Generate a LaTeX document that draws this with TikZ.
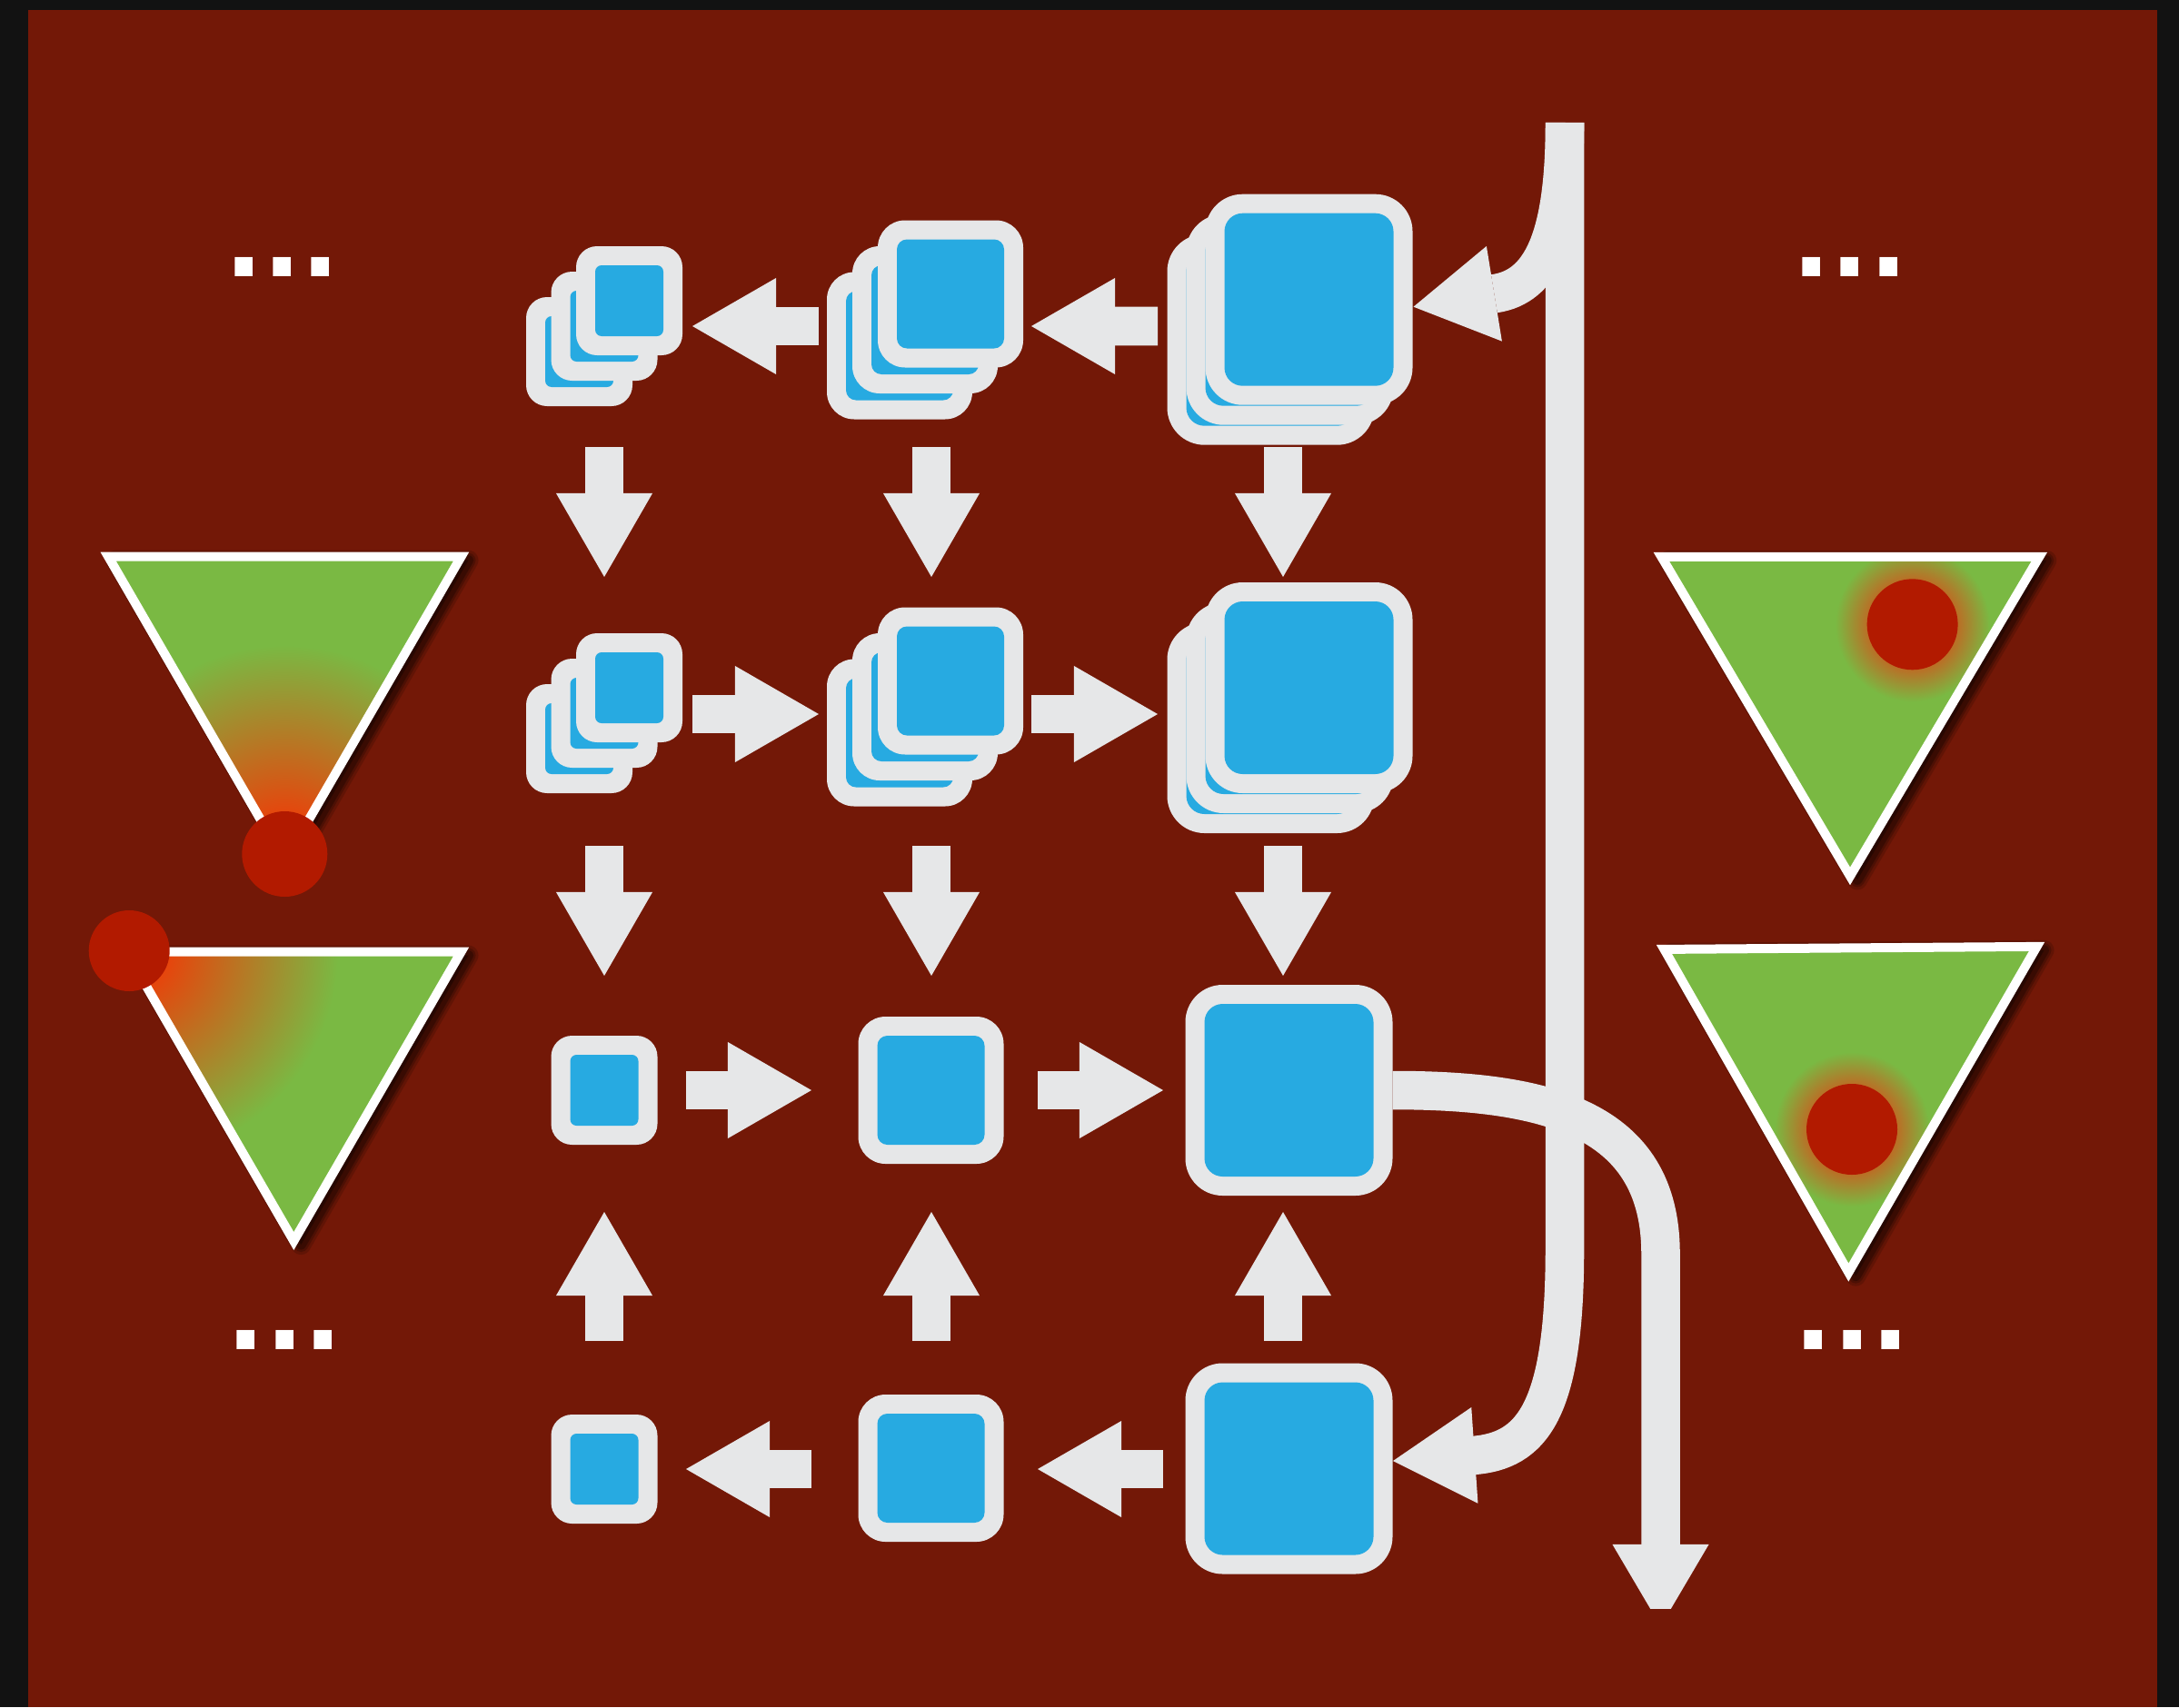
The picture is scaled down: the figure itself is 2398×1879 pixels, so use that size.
\documentclass[tikz,border=0pt]{standalone}
\usepackage{fontspec}
\newfontfamily\dotfont{DejaVu Sans}
\usetikzlibrary{arrows.meta,calc}
\definecolor{bgdark}{HTML}{121212}
\definecolor{bgred}{HTML}{731807}
\definecolor{boxgray}{HTML}{E6E7E8}
\definecolor{boxblue}{HTML}{27AAE1}
\definecolor{trigreen}{HTML}{7AB943}
\definecolor{hot}{HTML}{FF2A00}
\definecolor{dotred}{HTML}{B21A00}
\definecolor{halocol}{HTML}{BE6A24}
\pgfdeclareradialshading{halo}{\pgfpointorigin}{color(0bp)=(halocol); color(14bp)=(halocol); color(25bp)=(trigreen); color(50bp)=(trigreen)}
\pgfdeclareradialshading{hotspot}{\pgfpointorigin}{color(0bp)=(hot); color(25bp)=(trigreen); color(50bp)=(trigreen)}
\newcommand\sqb[7]{%
  \node[sqo, minimum width={#4*0.01cm}, minimum height={#5*0.01cm}, rounded corners={#6*0.01cm}] (#1) at (#2,#3) {};
  \node[sqi, minimum width={(#4-42)*0.01cm}, minimum height={(#5-42)*0.01cm}, rounded corners={#7*0.01cm}] (#1i) at (#1.center) {};
}
\newcommand\ssq[3]{\sqb{#1}{#2}{#3}{117}{120}{23}{7}}
\newcommand\msq[3]{\sqb{#1}{#2}{#3}{160}{162}{30}{11}}
\newcommand\lsq[3]{\sqb{#1}{#2}{#3}{228}{232}{41}{20}}
\newcommand\trishape[4]{%
  \foreach \ww/\oo in {22/0.15,16/0.2,11/0.25}{\draw[black, opacity=\oo, line width=\ww*0.01cm, line join=round, shift={(8,4)}] #1 -- #2 -- #3 -- cycle;}
  \fill[black, opacity=0.3, shift={(8,4)}] #1 -- #2 -- #3 -- cycle;
  \begin{scope}\clip #1 -- #2 -- #3 -- cycle; \fill[trigreen] #1 -- #2 -- #3 -- cycle; #4 \end{scope}
  \draw[tri] #1 -- #2 -- #3 -- cycle;
}
\begin{document}
\begin{tikzpicture}[x=0.01cm,y=-0.01cm,
  sqo/.style={rectangle, fill=boxgray, draw=none, inner sep=0pt, outer sep=0pt},
  sqi/.style={rectangle, fill=boxblue, draw=none, inner sep=0pt, outer sep=0pt},
  blk/.style={draw=boxgray, line width=0.425cm, -{Triangle[length=0.92cm, width=1.06cm, line width=0pt]}},
  cur/.style={draw=boxgray, line width=0.425cm, -{Triangle[length=0.9cm, width=1.06cm, line width=0pt]}},
  tri/.style={draw=white, line width=0.1cm, line join=miter},
  dots/.style={text=white, inner sep=0pt, outer sep=0pt, anchor=base, font=\dotfont\bfseries\fontsize{31.7}{38}\selectfont},
]
\useasboundingbox (0,0) rectangle (2398,1879);
\fill[bgdark] (0,0) rectangle (2398,1879);
\fill[bgred] (31,11) rectangle (2374,1879);

% triangles
\trishape{(119.2,612.7)}{(507.5,612.7)}{(313.3,948)}{\shade[shading=hotspot] (313.3,940) circle (230);}
\fill[dotred] (313.3,940) circle (47);
\trishape{(139.1,1047.6)}{(507.5,1047.6)}{(323.3,1366)}{\shade[shading=hotspot] (142.2,1046.5) circle (230);}
\fill[dotred] (142.2,1046.5) circle (44.5);
\trishape{(1828.4,612.9)}{(2244.2,612.9)}{(2036,964.4)}{\shade[shading=halo] (2104.6,687.3) circle (85);}
\fill[dotred] (2104.6,687.3) circle (50);
\trishape{(1831.4,1044.9)}{(2241.5,1041.9)}{(2034.3,1400.6)}{\shade[shading=halo] (2038,1243) circle (85);}
\fill[dotred] (2038,1243) circle (50);

% dots
\node[dots] (dTL) at (310.7,304) {...};
\node[dots] (dTR) at (2036,304) {...};
\node[dots] (dBL) at (313.3,1485) {...};
\node[dots] (dBR) at (2038.3,1485) {...};

% row 1 stacks
\ssq{s1c}{637.5}{387}\ssq{s1b}{665}{359}\ssq{s1}{692.5}{331}
\msq{m1c}{990}{380.5}\msq{m1b}{1018}{352}\msq{m1}{1046}{323.5}
\lsq{l1c}{1398.5}{373.7}\lsq{l1b}{1419.5}{351.7}\lsq{l1}{1440.5}{329.7}
% row 2 stacks
\ssq{s2c}{637.5}{813}\ssq{s2b}{665}{785}\ssq{s2}{692.5}{757}
\msq{m2c}{990}{806.5}\msq{m2b}{1018}{778}\msq{m2}{1046}{749.5}
\lsq{l2c}{1398.5}{801}\lsq{l2b}{1419.5}{779}\lsq{l2}{1440.5}{757}
% row 3 and 4
\ssq{s3}{665}{1200}\msq{m3}{1024.5}{1200}\lsq{l3}{1418.5}{1200}
\ssq{s4}{665}{1617}\msq{m4}{1024.5}{1616}\lsq{l4}{1418.5}{1616.5}

% horizontal block arrows
\draw[blk] ($(m1b)+(-117,7)$) -- ($(s1b)+(97,0)$);
\draw[blk] ($(l1b)+(-145.5,7.3)$) -- ($(m1b)+(117,7)$);
\draw[blk] ($(s2b)+(97,1)$) -- ($(m2b)+(-117,8)$);
\draw[blk] ($(m2b)+(117,8)$) -- ($(l2b)+(-145.5,7)$);
\draw[blk] ($(s3)+(90,0)$) -- ($(m3)+(-131.5,0)$);
\draw[blk] ($(m3)+(117.5,0)$) -- ($(l3)+(-138.5,0)$);
\draw[blk] ($(m4)+(-131.5,1)$) -- ($(s4)+(90,0)$);
\draw[blk] ($(l4)+(-138.5,0.5)$) -- ($(m4)+(117.5,1)$);
% vertical block arrows
\draw[blk] ($(s1b)+(0,133)$) -- ($(s2b)+(0,-150)$);
\draw[blk] ($(m1b)+(7,140)$) -- ($(m2b)+(7,-143)$);
\draw[blk] ($(l1b)+(-7.5,140.3)$) -- ($(l2b)+(-7.5,-144)$);
\draw[blk] ($(s2b)+(0,146)$) -- ($(s3)+(0,-126)$);
\draw[blk] ($(m2b)+(7,153)$) -- ($(m3)+(0.5,-126)$);
\draw[blk] ($(l2b)+(-7.5,152)$) -- ($(l3)+(-6.5,-126)$);
\draw[blk] ($(s4)+(0,-141)$) -- ($(s3)+(0,134)$);
\draw[blk] ($(m4)+(0.5,-140)$) -- ($(m3)+(0.5,134)$);
\draw[blk] ($(l4)+(-6.5,-140.5)$) -- ($(l3)+(-6.5,134)$);

% curved arrows
\coordinate (src) at (1722,135);
\coordinate (cend) at (1827.5,1790);
\draw[cur] (src) .. controls (1722,265) and (1695,315) .. (1646,323) -- ($(l1.east)+(1,8)$);
\draw[cur] (src) -- (1722,1375) .. controls (1722,1555) and (1685,1597) .. (1621,1602) -- ($(l4.east)+(0.5,-8.5)$);
\begin{scope}
\clip (0,0) rectangle (2398,1770);
\draw[cur] (l3.east) .. controls (1700,1200) and (1827.5,1230) .. (1827.5,1380) -- (cend);
\end{scope}
\end{tikzpicture}
\end{document}
